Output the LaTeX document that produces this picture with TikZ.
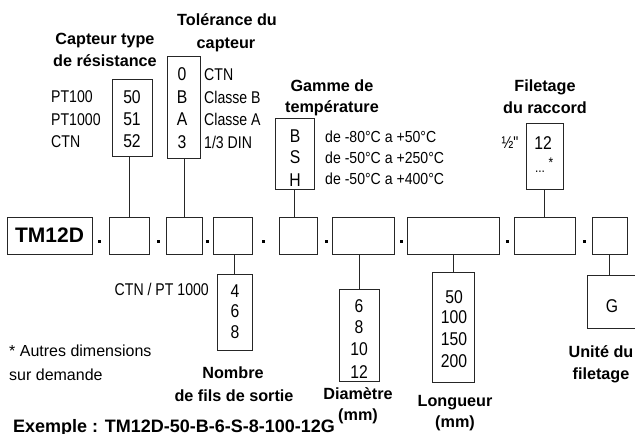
\documentclass[tikz,border=0pt]{standalone}
\usepackage{fontspec}
\setmainfont{Liberation Sans}
\newfontfamily\nf[FakeStretch=0.83]{Liberation Sans}
\newfontfamily\nfb[FakeStretch=0.88]{Liberation Sans}
\newfontfamily\nfv[FakeStretch=0.85]{Liberation Sans}
\begin{document}
\begin{tikzpicture}[x=1pt,y=-1pt,
  bx/.style={draw=black!85, line width=0.9pt, inner sep=0pt, fill=white},
  ttl/.style={font=\fontsize{16.2}{18}\selectfont\bfseries, anchor=base, inner sep=0pt},
  lbl/.style={font=\nf\fontsize{17}{19}\selectfont, anchor=base west, inner sep=0pt},
  tmp/.style={font=\nfb\fontsize{16}{18}\selectfont, anchor=base west, inner sep=0pt},
  nrm/.style={font=\fontsize{16}{18}\selectfont, anchor=base west, inner sep=0pt},
  val/.style={font=\nfv\fontsize{18.5}{20}\selectfont, anchor=base, inner sep=0pt},
  sep/.style={fill=black, minimum size=3pt, inner sep=0pt},
  con/.style={draw=black!85, line width=0.9pt}]
\useasboundingbox (0,0) rectangle (635,434);
% main row
\node[bx, minimum width=85pt, minimum height=37pt, font=\fontsize{21}{23}\selectfont\bfseries] (tm) at (49.5,235.5) {TM12D};
\node[bx, minimum width=40pt, minimum height=37pt] (b2) at (129,235.5) {};
\node[bx, minimum width=36pt, minimum height=37pt] (b3) at (184,235.5) {};
\node[bx, minimum width=39pt, minimum height=37pt] (b4) at (232.5,235.5) {};
\node[bx, minimum width=38pt, minimum height=37pt] (b5) at (298,235.5) {};
\node[bx, minimum width=62pt, minimum height=37pt] (b6) at (363,235.5) {};
\node[bx, minimum width=92pt, minimum height=37pt] (b7) at (453,235.5) {};
\node[bx, minimum width=61pt, minimum height=37pt] (b8) at (544.5,235.5) {};
\node[bx, minimum width=35pt, minimum height=37pt] (b9) at (609.5,235.5) {};
\node[sep] (s1) at (99,241) {};
\node[sep] (s2) at (158,241) {};
\node[sep] (s3) at (207,241) {};
\node[sep] (s4) at (263,241) {};
\node[sep] (s5) at (326,241) {};
\node[sep] (s6) at (401,241) {};
\node[sep] (s7) at (507,241) {};
\node[sep] (s8) at (584,241) {};
% upper boxes
\node[bx, minimum width=40pt, minimum height=77pt] (cap) at (132,117.5) {};
\node[bx, minimum width=33pt, minimum height=102pt] (tol) at (183.5,107) {};
\node[bx, minimum width=39pt, minimum height=71pt] (gam) at (294.5,153.5) {};
\node[bx, minimum width=37pt, minimum height=66pt] (fil) at (544.5,156) {};
% lower boxes
\node[bx, minimum width=35pt, minimum height=76pt] (nom) at (234.5,312) {};
\node[bx, minimum width=40pt, minimum height=92pt] (dia) at (359,335) {};
\node[bx, minimum width=42pt, minimum height=110pt] (lon) at (453,327) {};
\node[bx, minimum width=53pt, minimum height=53pt] (gb) at (613.5,301.5) {};
% connectors
\draw[con] (b2.north) -- (b2.north |- cap.south);
\draw[con] (b3.north) -- (b3.north |- tol.south);
\draw[con] (gam.south) -- (gam.south |- b5.north);
\draw[con] (fil.south) -- (fil.south |- b8.north);
\draw[con] (nom.north) -- (nom.north |- b4.south);
\draw[con] (dia.north) -- (dia.north |- b6.south);
\draw[con] (lon.north) -- (lon.north |- b7.south);
\draw[con] (b9.south) -- (b9.south |- gb.north);
% titles
\node[ttl] (t1a) at (105,44) {Capteur type};
\node[ttl] (t1b) at (105,66) {de résistance};
\node[ttl] (t2a) at (227,25) {Tolérance du};
\node[ttl] (t2b) at (226,48) {capteur};
\node[ttl] (t3a) at (332,91) {Gamme de};
\node[ttl] (t3b) at (332,112) {température};
\node[ttl] (t4a) at (545,91) {Filetage};
\node[ttl] (t4b) at (545,113) {du raccord};
\node[ttl] (t5a) at (233,378) {Nombre};
\node[ttl] (t5b) at (234,401) {de fils de sortie};
\node[ttl] (t6a) at (358,399) {Diamètre};
\node[ttl] (t6b) at (358,420) {(mm)};
\node[ttl] (t7a) at (455,406) {Longueur};
\node[ttl] (t7b) at (455,427) {(mm)};
\node[ttl] (t8a) at (601,357) {Unité du};
\node[ttl] (t8b) at (601,379) {filetage};
\node[font=\fontsize{18}{20}\selectfont\bfseries, anchor=base west, inner sep=0pt] (ex) at (13,432) {Exemple : TM12D-50-B-6-S-8-100-12G};
% labels
\node[lbl] (l1) at (51,102) {PT100};
\node[lbl] (l2) at (51,125) {PT1000};
\node[lbl] (l3) at (51,147) {CTN};
\node[lbl] (l4) at (204,80) {CTN};
\node[lbl] (l5) at (204,103) {Classe B};
\node[lbl] (l6) at (204,125) {Classe A};
\node[lbl] (l7) at (204,148) {1/3 DIN};
\node[tmp] (l8) at (325,142) {de -80°C a +50°C};
\node[tmp] (l9) at (325,163) {de -50°C a +250°C};
\node[tmp] (l10) at (325,184) {de -50°C a +400°C};
\node[lbl, anchor=base east] (l11) at (209,295) {CTN / PT 1000};
\node[lbl, anchor=base] (l12) at (510,148) {½"};
\node[nrm] (l13) at (9,356) {* Autres dimensions};
\node[nrm] (l14) at (9,380) {sur demande};
% values
\node[val] (v1) at (132,103) {50};
\node[val] (v2) at (132,125) {51};
\node[val] (v3) at (132,147) {52};
\node[val] (v4) at (182,80) {0};
\node[val] (v5) at (182,103) {B};
\node[val] (v6) at (182,125) {A};
\node[val] (v7) at (182,148) {3};
\node[val] (v8) at (295,142) {B};
\node[val] (v9) at (295,163) {S};
\node[val] (v10) at (295,186) {H};
\node[val] (v11) at (543,149) {12};
\node[val, font=\nfv\fontsize{14}{16}\selectfont] (v12) at (540,172) {...};
\node[val, font=\nfv\fontsize{14}{16}\selectfont] (v13) at (551,167) {*};
\node[val] (v14) at (235,297) {4};
\node[val] (v15) at (235,317) {6};
\node[val] (v16) at (235,338) {8};
\node[val] (v17) at (359,312) {6};
\node[val] (v18) at (359,333) {8};
\node[val] (v19) at (359,355) {10};
\node[val] (v20) at (359,378) {12};
\node[val] (v21) at (454,303) {50};
\node[val] (v22) at (454,323) {100};
\node[val] (v23) at (454,345) {150};
\node[val] (v24) at (454,367) {200};
\node[val] (v25) at (612,312) {G};
\end{tikzpicture}
\end{document}
